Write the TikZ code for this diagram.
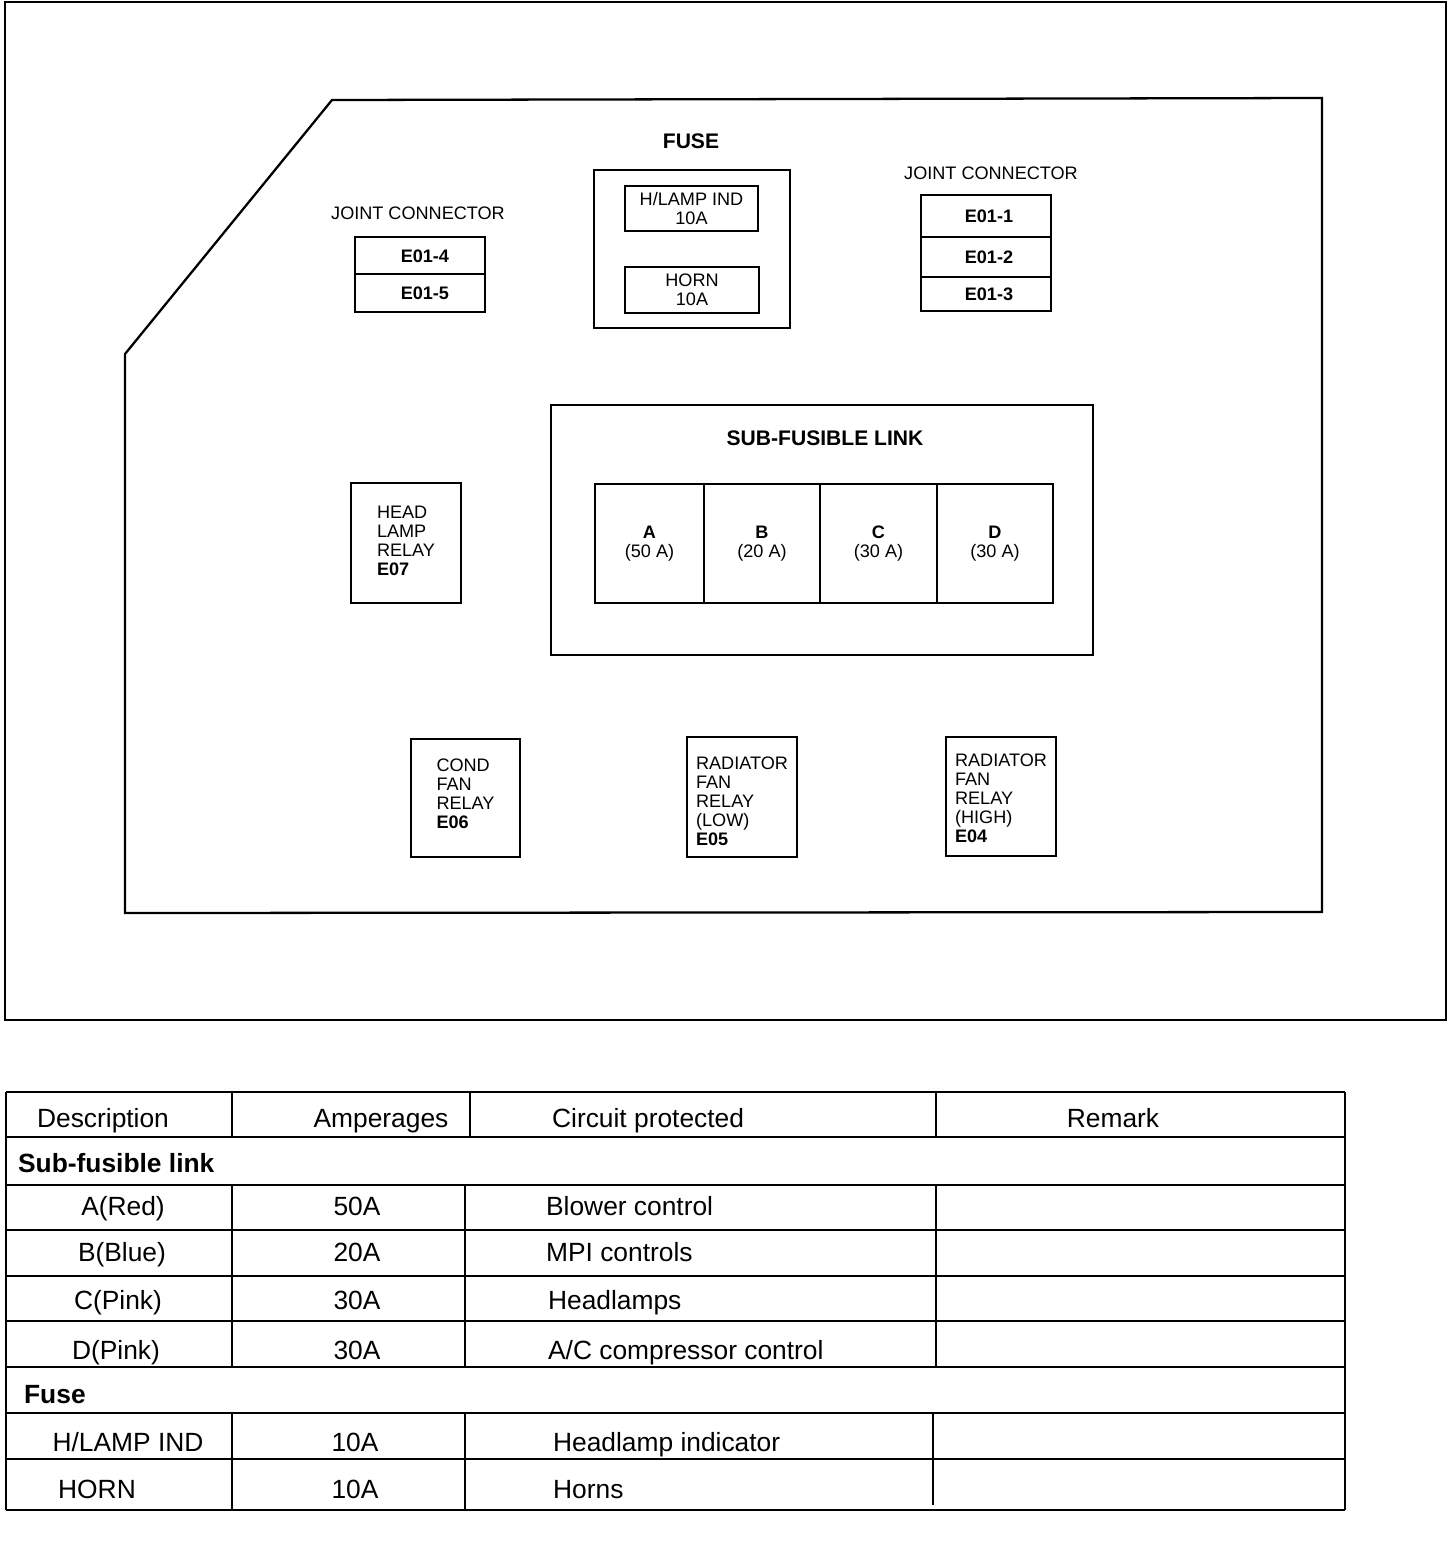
\documentclass[tikz,border=0pt]{standalone}
\usepackage{fontspec}
\setmainfont{Liberation Sans}
\usepackage{tikz}
\usetikzlibrary{positioning,fit}

\begin{document}
\begin{tikzpicture}[
    x=0.02cm, y=-0.02cm,
    line width=1.3pt,
    box/.style={draw, inner sep=0pt},
    txt/.style={inner sep=0pt, font=\fontsize{10.3}{10.8}\selectfont, align=center},
    code/.style={txt, font=\fontsize{10.3}{10.8}\selectfont\bfseries, text height=7.4pt, text depth=0pt},
    relaytxt/.style={txt, align=left},
    lbl/.style={inner sep=0pt, font=\fontsize{10.3}{10.8}\selectfont, text height=7.4pt, text depth=0pt},
    title/.style={lbl, font=\fontsize{12}{14}\selectfont\bfseries, text height=8.6pt},
    tabtext/.style={inner sep=0pt, font=\fontsize{15}{18}\selectfont, text height=10.7pt, text depth=0pt},
    tabhead/.style={tabtext, anchor=west, font=\fontsize{15}{18}\selectfont\bfseries}
]
    \useasboundingbox (0,0) rectangle (1456,1542);

    % frame and fuse box outline
    \draw (5,2) rectangle (1446,1020);
    \draw (332,100) -- (1322,98) -- (1322,912) -- (125,913) -- (125,354) -- cycle;

    % joint connector (left)
    \node[lbl] (jcleft) at (418,213) {JOINT CONNECTOR};
    \node[box, fit={(355,237)(485,274)}] (e014) {};
    \node[box, fit={(355,274)(485,312)}] (e015) {};
    \node[code] at ([xshift=2.8]e014.center) {E01-4};
    \node[code] at ([xshift=2.8]e015.center) {E01-5};

    % fuses
    \node[title] (fusettl) at (691,141) {FUSE};
    \node[box, fit={(594,170)(790,328)}] (fuse) {};
    \node[box, fit={(625,186)(758,231)}] (hlamp) {};
    \node[box, fit={(625,267)(759,313)}] (horn) {};
    \node[txt] at (hlamp.center) {H/LAMP IND\\10A};
    \node[txt] at (horn.center) {HORN\\10A};

    % joint connector (right)
    \node[lbl] (jcright) at (991,173) {JOINT CONNECTOR};
    \node[box, fit={(921,195)(1051,237)}] (e011) {};
    \node[box, fit={(921,237)(1051,277)}] (e012) {};
    \node[box, fit={(921,277)(1051,311)}] (e013) {};
    \node[code] at ([xshift=1.7]e011.center) {E01-1};
    \node[code] at ([xshift=1.7]e012.center) {E01-2};
    \node[code] at ([xshift=1.7]e013.center) {E01-3};

    % sub-fusible link
    \node[box, fit={(551,405)(1093,655)}] (sfl) {};
    \node[title] (sflttl) at (825,438) {SUB-FUSIBLE LINK};
    \node[box, fit={(595,484)(704,603)}] (linka) {};
    \node[box, fit={(704,484)(820,603)}] (linkb) {};
    \node[box, fit={(820,484)(937,603)}] (linkc) {};
    \node[box, fit={(937,484)(1053,603)}] (linkd) {};
    \node[txt] at (linka.center) {\textbf{A}\\(50 A)};
    \node[txt] at (linkb.center) {\textbf{B}\\(20 A)};
    \node[txt] at (linkc.center) {\textbf{C}\\(30 A)};
    \node[txt] at (linkd.center) {\textbf{D}\\(30 A)};

    % relays
    \node[box, fit={(351,483)(461,603)}] (hlrelay) {};
    \node[box, fit={(411,739)(520,857)}] (condfan) {};
    \node[box, fit={(687,737)(797,857)}] (radlow) {};
    \node[box, fit={(946,737)(1056,856)}] (radhigh) {};
    \node[relaytxt] at ([yshift=1]hlrelay.center) {HEAD\\LAMP\\RELAY\\\textbf{E07}};
    \node[relaytxt] at ([yshift=2.3]condfan.center) {COND\\FAN\\RELAY\\\textbf{E06}};
    \node[relaytxt] at ([yshift=-2.2]radlow.center) {RADIATOR\\FAN\\RELAY\\(LOW)\\\textbf{E05}};
    \node[relaytxt] at ([yshift=-1.1]radhigh.center) {RADIATOR\\FAN\\RELAY\\(HIGH)\\\textbf{E04}};

    % table grid
    \foreach \r in {1092,1137,1185,1230,1276,1321,1367,1413,1459,1510}
        \draw (6,\r) -- (1345,\r);
    \draw (6,1092) -- (6,1510);
    \draw (1345,1092) -- (1345,1510);
    \draw (232,1092) -- (232,1137) (470,1092) -- (470,1137) (936,1092) -- (936,1137);
    \draw (232,1185) -- (232,1367) (465,1185) -- (465,1367) (936,1185) -- (936,1367);
    \draw (232,1413) -- (232,1510) (465,1413) -- (465,1510) (933,1413) -- (933,1505);

    % table text
    \node[tabtext] (hdesc) at (103,1118) {Description};
    \node[tabtext] (hamp) at (381,1118) {Amperages};
    \node[tabtext, anchor=west] (hcirc) at (551,1118) {Circuit protected};
    \node[tabtext] (hrem) at (1113,1118) {Remark};

    \node[tabhead] (sfltab) at (17,1163) {Sub-fusible link};
    \node[tabtext] (da) at (123,1206) {A(Red)};
    \node[tabtext] (aa) at (357,1206) {50A};
    \node[tabtext, anchor=west] (ca) at (545,1206) {Blower control};
    \node[tabtext] (db) at (122,1252) {B(Blue)};
    \node[tabtext] (ab) at (357,1252) {20A};
    \node[tabtext, anchor=west] (cb) at (545,1252) {MPI controls};
    \node[tabtext] (dc) at (118,1300) {C(Pink)};
    \node[tabtext] (ac) at (357,1300) {30A};
    \node[tabtext, anchor=west] (cc) at (547,1300) {Headlamps};
    \node[tabtext] (dd) at (116,1350) {D(Pink)};
    \node[tabtext] (ad) at (357,1350) {30A};
    \node[tabtext, anchor=west] (cd) at (547,1350) {A/C compressor control};

    \node[tabhead] (fusetab) at (23,1394) {Fuse};
    \node[tabtext] (dhl) at (128,1442) {H/LAMP IND};
    \node[tabtext] (ahl) at (355,1442) {10A};
    \node[tabtext, anchor=west] (chl) at (552,1442) {Headlamp indicator};
    \node[tabtext] (dhn) at (97,1489) {HORN};
    \node[tabtext] (ahn) at (355,1489) {10A};
    \node[tabtext, anchor=west] (chn) at (552,1489) {Horns};
\end{tikzpicture}
\end{document}
